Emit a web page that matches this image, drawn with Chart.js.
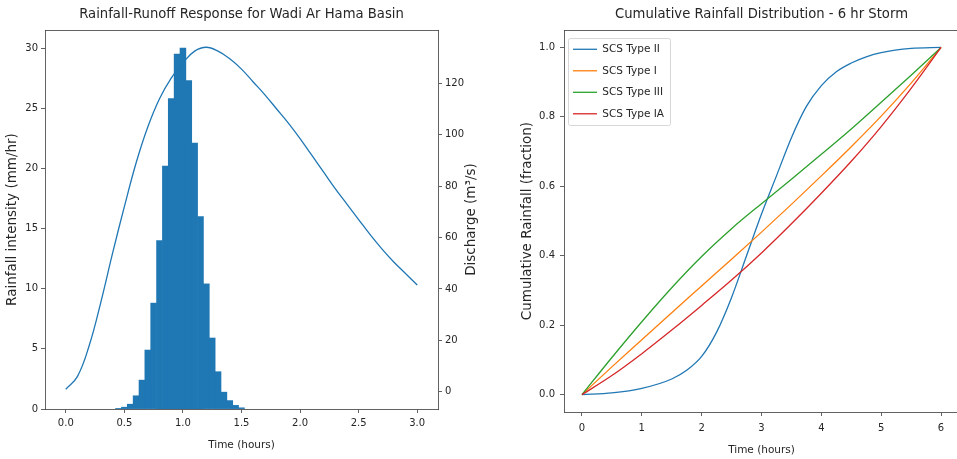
<!DOCTYPE html>
<html>
<head>
<meta charset="utf-8">
<script src="https://cdn.jsdelivr.net/npm/chart.js@4"></script>
<style>
  html, body { margin: 0; padding: 0; background: #fff; overflow: hidden; }
  #wrap { position: relative; width: 957px; height: 459px; overflow: hidden; }
  canvas { position: absolute; top: 0; }
  #runoff { left: 0; }
  #cumulative { left: 480px; }
</style>
</head>
<body>
<div id="wrap">
  <canvas id="runoff" width="478" height="459"></canvas>
  <canvas id="cumulative" width="482" height="459"></canvas>
</div>
<script>
// ---- left panel: hyetograph + hydrograph ----
const rainTime = [0.45, 0.50, 0.55, 0.60, 0.65, 0.70, 0.75, 0.80, 0.85, 0.90, 0.95,
  1.00, 1.05, 1.10, 1.15, 1.20, 1.25, 1.30, 1.35, 1.40, 1.45, 1.50];
const rainIntensity = [0.05, 0.15, 0.4, 1.1, 2.4, 4.9, 8.8, 14.0, 20.2, 25.8, 29.5,
  30.0, 27.3, 22.1, 16.0, 10.4, 5.9, 3.1, 1.4, 0.7, 0.3, 0.1];

const flowTime = [0.0, 0.1, 0.2, 0.3, 0.4, 0.5, 0.6, 0.7, 0.8, 0.9, 1.0,
  1.1, 1.2, 1.3, 1.4, 1.5, 1.6, 1.7, 1.8, 1.9, 2.0,
  2.1, 2.2, 2.3, 2.4, 2.5, 2.6, 2.7, 2.8, 2.9, 3.0];
const discharge = [1, 6, 18, 35, 54, 72, 89, 103, 114, 122, 128,
  132.5, 134, 132.5, 129.5, 125.5, 120.5, 115.5, 110, 104.5, 98.5,
  92, 85.5, 79, 73, 67, 61, 55.5, 50.5, 46, 41.5];

const timeTicks = [0.0, 0.5, 1.0, 1.5, 2.0, 2.5, 3.0];
const rainTicks = [0, 5, 10, 15, 20, 25, 30];
const flowTicks = [0, 20, 40, 60, 80, 100, 120];

// ---- right panel: SCS cumulative distributions ----
const type2Time = [0, 0.5, 1, 1.5, 1.75, 2, 2.25, 2.5, 2.75, 3, 3.25, 3.5, 3.75, 4, 4.25, 4.5, 4.75, 5, 5.5, 6];
const type2 = [0, 0.005, 0.018, 0.045, 0.07, 0.11, 0.18, 0.28, 0.40, 0.52, 0.63, 0.74, 0.83, 0.89, 0.93, 0.955, 0.973, 0.985, 0.997, 1.0];
const scsTime = [0, 0.5, 1, 1.5, 2, 2.5, 3, 3.5, 4, 4.5, 5, 5.5, 6];
const type1 = [0, 0.08, 0.158, 0.236, 0.313, 0.39, 0.468, 0.548, 0.63, 0.714, 0.802, 0.897, 1.0];
const type3 = [0, 0.107, 0.21, 0.308, 0.398, 0.478, 0.55, 0.62, 0.692, 0.765, 0.842, 0.92, 1.0];
const type1a = [0, 0.055, 0.118, 0.186, 0.257, 0.33, 0.408, 0.492, 0.58, 0.672, 0.772, 0.882, 1.0];

const hourTicks = [0, 1, 2, 3, 4, 5, 6];
const fracTicks = [0.0, 0.2, 0.4, 0.6, 0.8, 1.0];

const pts = (xs, ys) => xs.map((x, i) => ({x: x, y: ys[i]}));
const setTicks = (vals) => (scale) => { scale.ticks = vals.map(v => ({value: v})); };

const FONT = 'DejaVu Sans';
const TXT = '#262626';
const AX = '#3a3a3a';
Chart.defaults.font.family = FONT;
Chart.defaults.color = TXT;

const tickGrid = {display: true, drawOnChartArea: false, drawTicks: true, tickLength: 4, color: AX, lineWidth: 0.8};
const spine = {display: true, color: AX, width: 0.8};
const topSpine = {
  type: 'linear', position: 'top', display: true,
  ticks: {display: false},
  grid: {display: false, drawTicks: false, drawOnChartArea: false},
  border: spine,
  afterFit: (s) => { s.height = 0; }
};

// matplotlib writes the twin-axis label bottom-to-top, Chart.js the other way
const rightAxisTitle = {
  id: 'rightAxisTitle',
  afterDraw(chart, args, opts) {
    const sc = chart.scales[opts.axis];
    if (!sc) return;
    const ctx = chart.ctx;
    ctx.save();
    ctx.translate(sc.right - opts.inset, (chart.chartArea.top + chart.chartArea.bottom) / 2);
    ctx.rotate(-Math.PI / 2);
    ctx.font = opts.size + 'px "' + FONT + '"';
    ctx.fillStyle = TXT;
    ctx.textAlign = 'center';
    ctx.textBaseline = 'middle';
    ctx.fillText(opts.text, 0, 0);
    ctx.restore();
  }
};

new Chart(document.getElementById('runoff'), {
  type: 'bar',
  data: {
    datasets: [{
      type: 'line',
      label: 'Discharge',
      data: pts(flowTime, discharge),
      xAxisID: 'x',
      yAxisID: 'yQ',
      borderColor: '#1f77b4',
      borderWidth: 1.3,
      pointRadius: 0,
      tension: 0.4,
      order: 0
    }, {
      type: 'bar',
      label: 'Rainfall',
      data: pts(rainTime, rainIntensity),
      xAxisID: 'x',
      yAxisID: 'yR',
      backgroundColor: '#1f77b4',
      borderColor: '#1f77b4',
      borderWidth: 0,
      barPercentage: 1,
      categoryPercentage: 1,
      order: 1
    }]
  },
  plugins: [rightAxisTitle],
  options: {
    responsive: false,
    animation: false,
    devicePixelRatio: 1,
    plugins: {
      legend: {display: false},
      tooltip: {enabled: false},
      rightAxisTitle: {axis: 'yQ', text: 'Discharge (m³/s)', size: 13.5, inset: 7},
      title: {
        display: true,
        fullSize: false,
        text: 'Rainfall-Runoff Response for Wadi Ar Hama Basin',
        color: TXT,
        font: {size: 13.2, weight: 'normal'},
        padding: {top: 7, bottom: 7.2}
      }
    },
    scales: {
      x: {
        type: 'linear', position: 'bottom', min: -0.1775, max: 3.1775, offset: false,
        afterBuildTicks: setTicks(timeTicks),
        afterFit: (s) => { s.height = 50; },
        ticks: {color: TXT, font: {size: 10}, padding: 4, callback: (v) => v.toFixed(1)},
        grid: {...tickGrid, offset: false},
        border: spine,
        title: {display: true, text: 'Time (hours)', color: TXT, font: {size: 10.5}, padding: {top: 0, bottom: 7.7}}
      },
      xTop: topSpine,
      yR: {
        type: 'linear', position: 'left', min: 0, max: 31.5,
        afterBuildTicks: setTicks(rainTicks),
        afterFit: (s) => { s.width = 45; },
        ticks: {color: TXT, font: {size: 10}, padding: 3},
        grid: tickGrid,
        border: spine,
        title: {display: true, text: 'Rainfall intensity (mm/hr)', color: TXT, font: {size: 13.5}, padding: {top: 3.9, bottom: 0}}
      },
      yQ: {
        type: 'linear', position: 'right', min: -6.7, max: 140.7,
        afterBuildTicks: setTicks(flowTicks),
        afterFit: (s) => { s.width = 40; },
        ticks: {color: TXT, font: {size: 10}, padding: 3},
        grid: tickGrid,
        border: spine,
        title: {display: false}
      }
    }
  }
});

// put the legend in the upper-left corner of the plot, with a light frame
const legendInside = {
  id: 'legendInside',
  afterLayout(chart) {
    const lg = chart.legend;
    if (!lg) return;
    lg.top = chart.chartArea.top + 3;
    lg.left = chart.chartArea.left - 2;
  },
  afterDraw(chart) {
    const hb = chart.legend && chart.legend.legendHitBoxes;
    if (!hb || !hb.length) return;
    const l = Math.min(...hb.map(b => b.left)) - 5;
    const t = Math.min(...hb.map(b => b.top)) - 6;
    const r = Math.max(...hb.map(b => b.left + b.width)) + 6;
    const btm = Math.max(...hb.map(b => b.top + b.height)) + 6;
    const ctx = chart.ctx;
    ctx.save();
    ctx.strokeStyle = '#d6d6d6';
    ctx.lineWidth = 1;
    ctx.beginPath();
    ctx.roundRect(l + 0.5, t + 0.5, r - l, btm - t, 2);
    ctx.stroke();
    ctx.restore();
  }
};

const scsLine = (label, xs, ys, color, order) => ({
  label: label,
  data: pts(xs, ys),
  borderColor: color,
  backgroundColor: color,
  borderWidth: 1.3,
  pointRadius: 0,
  cubicInterpolationMode: 'monotone',
  order: order
});

new Chart(document.getElementById('cumulative'), {
  type: 'line',
  data: {
    datasets: [
      scsLine('SCS Type II', type2Time, type2, '#1f77b4', 3),
      scsLine('SCS Type I', scsTime, type1, '#ff7f0e', 2),
      scsLine('SCS Type III', scsTime, type3, '#2ca02c', 1),
      scsLine('SCS Type IA', scsTime, type1a, '#d62728', 0)
    ]
  },
  plugins: [legendInside],
  options: {
    responsive: false,
    animation: false,
    devicePixelRatio: 1,
    layout: {padding: {right: 3}},
    plugins: {
      tooltip: {enabled: false},
      legend: {
        display: true,
        position: 'chartArea',
        align: 'start',
        labels: {
          color: TXT,
          font: {size: 10.5},
          usePointStyle: true,
          pointStyle: 'line',
          pointStyleWidth: 24,
          padding: 11,
          sort: (a, b) => a.datasetIndex - b.datasetIndex
        }
      },
      title: {
        display: true,
        fullSize: false,
        text: 'Cumulative Rainfall Distribution - 6 hr Storm',
        color: TXT,
        font: {size: 13.2, weight: 'normal'},
        padding: {top: 7, bottom: 7.2}
      }
    },
    scales: {
      x: {
        type: 'linear', position: 'bottom', min: -0.3, max: 6.3,
        afterBuildTicks: setTicks(hourTicks),
        afterFit: (s) => { s.height = 47; },
        ticks: {color: TXT, font: {size: 10}, padding: 6},
        grid: tickGrid,
        border: spine,
        title: {display: true, text: 'Time (hours)', color: TXT, font: {size: 10.5}, padding: {top: 0, bottom: 2.7}}
      },
      xTop: topSpine,
      y: {
        type: 'linear', position: 'left', min: -0.05, max: 1.05,
        afterBuildTicks: setTicks(fracTicks),
        afterFit: (s) => { s.width = 84; },
        ticks: {color: TXT, font: {size: 10}, padding: 5, callback: (v) => v.toFixed(1)},
        grid: tickGrid,
        border: spine,
        title: {display: true, text: 'Cumulative Rainfall (fraction)', color: TXT, font: {size: 13.5}, padding: {top: 38.9, bottom: 0}}
      }
    }
  }
});
</script>
</body>
</html>
